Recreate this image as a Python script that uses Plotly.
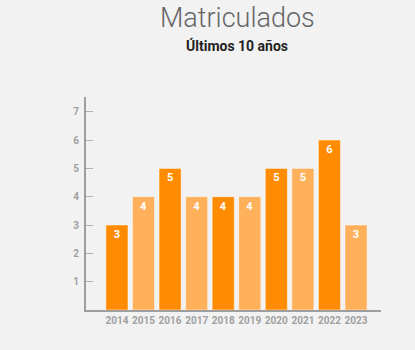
import plotly.graph_objects as go

years = ["2014", "2015", "2016", "2017", "2018", "2019", "2020", "2021", "2022", "2023"]
values = [3, 4, 5, 4, 4, 4, 5, 5, 6, 3]
colors = ["#ff8c00", "#ffb05a"] * 5

fig = go.Figure(go.Bar(
    x=years, y=values,
    marker=dict(color=colors, line=dict(color="rgba(255,255,255,0.45)", width=1)),
    text=[str(v) for v in values],
    textposition="inside", insidetextanchor="end",
    textfont=dict(family="Roboto", size=11, color="white", weight="bold"),
    width=0.83,
))

fig.update_layout(
    width=415, height=350,
    margin=dict(l=86, r=34, t=97, b=40),
    paper_bgcolor="#f2f2f2", plot_bgcolor="#f2f2f2",
    showlegend=False,
    xaxis=dict(
        type="category", range=[-1.165, 9.94],
        showline=True, linecolor="#9e9e9e", linewidth=2,
        ticks="", showgrid=False,
        tickfont=dict(family="Roboto", size=10, color="#a0a0a0", weight="bold"),
    ),
    yaxis=dict(
        range=[0, 7.52], tickvals=[1, 2, 3, 4, 5, 6, 7],
        showline=True, linecolor="#9e9e9e", linewidth=2,
        ticks="inside", ticklen=7, tickcolor="#b0b0b0", tickwidth=1,
        showgrid=False, zeroline=False,
        tickfont=dict(family="Roboto", size=10, color="#a0a0a0", weight="bold"),
        ticklabelstandoff=3,
    ),
    annotations=[
        dict(text="Matriculados", x=237, xref="paper", y=18, yref="paper",
             showarrow=False,
             font=dict(family="Roboto", size=27, color="#666666", weight=300)),
        dict(text="<b>Últimos 10 años</b>", x=237, xref="paper", y=45, yref="paper",
             showarrow=False,
             font=dict(family="Roboto", size=14, color="#222222")),
    ],
)

# convert pixel annotation positions to paper coords
pw = 415 - 86 - 34
ph = 350 - 97 - 40
for a in fig.layout.annotations:
    px, py = a.x, a.y
    a.x = (px - 86) / pw
    a.y = (350 - 40 - py) / ph
    a.xanchor = "center"
    a.yanchor = "middle"

fig.write_html("out.html")
